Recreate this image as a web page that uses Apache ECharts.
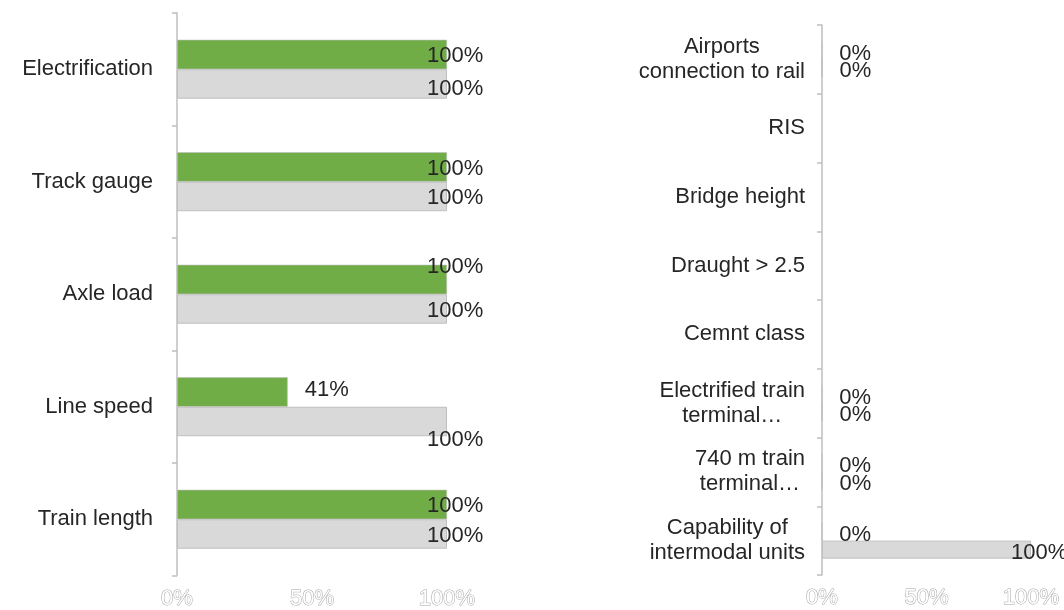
<!DOCTYPE html>
<html>
<head>
<meta charset="utf-8">
<style>
  html, body { margin: 0; padding: 0; background: #ffffff; }
  #chart { width: 1064px; height: 610px; }
</style>
<script src="https://cdn.jsdelivr.net/npm/echarts@6/dist/echarts.min.js"></script>
</head>
<body>
<div id="chart"></div>
<script>
// Rail-line parameters (left panel)
const lineCategories = ['Electrification', 'Track gauge', 'Axle load', 'Line speed', 'Train length'];
const lineCompliant = [100, 100, 100, 41, 100];
const lineTotal = [100, 100, 100, 100, 100];

// Terminal / node parameters (right panel)
const nodeCategories = [
  'Airports\nconnection to rail',
  'RIS',
  'Bridge height',
  'Draught > 2.5',
  'Cemnt class',
  'Electrified train\nterminal\u2026',
  '740 m train\nterminal\u2026',
  'Capability of\nintermodal units'
];
const nodeCompliant = [0, null, null, null, null, 0, 0, 0];
const nodeTotal = [0, null, null, null, null, 0, 0, 100];

// Value axis tick labels
const valueTicks = [0, 50, 100];

const FONT = "'Liberation Sans', Arial, sans-serif";
const TEXT = '#262626';
const GREEN = '#70ad47';
const GREY = '#d9d9d9';
const EDGE = '#bfbfbf';
const FS = 22;

// Labels sit just past short bars and tucked back over full-length bars
function pointLabel(value, dy) {
  const full = value >= 100;
  return {
    show: value !== null,
    position: 'right',
    distance: 5,
    offset: [full ? -25 : 12, dy || 0],
    color: TEXT,
    fontFamily: FONT,
    fontSize: FS,
    formatter: (p) => p.value + '%'
  };
}

function seriesData(values, nudges, baseDy) {
  return values.map((v, i) => ({
    value: v,
    label: pointLabel(v, (baseDy || 0) + ((nudges && nudges[i]) || 0))
  }));
}

// small vertical nudges for a few crowded labels
const compliantNudge = { 2: -14, 3: -4 };
const totalNudge = { 0: 3, 3: 17 };

const grids = [
  { left: 177, top: 13, width: 270, height: 563 },
  { left: 822, top: 25, width: 209, height: 550 }
];

function valueAxis(gridIndex) {
  return {
    type: 'value',
    gridIndex,
    min: valueTicks[0],
    max: valueTicks[valueTicks.length - 1],
    interval: valueTicks[1] - valueTicks[0],
    axisLine: { show: false },
    axisTick: { show: false },
    splitLine: { show: false },
    axisLabel: {
      margin: 12,
      color: '#ffffff',
      textBorderColor: '#a6a6a6',
      textBorderWidth: 1,
      fontFamily: FONT,
      fontSize: FS,
      formatter: '{value}%'
    }
  };
}

function categoryAxis(gridIndex, cats, margin, rich) {
  const axis = {
    type: 'category',
    gridIndex,
    data: cats,
    inverse: true,
    axisLine: { show: true, lineStyle: { color: EDGE, width: 1.5 } },
    axisTick: { show: true, length: 5, lineStyle: { color: EDGE, width: 1.5 } },
    axisLabel: {
      margin,
      color: TEXT,
      fontFamily: FONT,
      fontSize: FS,
      align: 'right'
    }
  };
  if (rich) {
    // right-aligned block, lines centred against each other
    axis.axisLabel.formatter = (v) => v.split('\n').map((s) => '{c|' + s + '}').join('\n');
    axis.axisLabel.rich = {
      c: { align: 'center', color: TEXT, fontFamily: FONT, fontSize: FS, lineHeight: 25 }
    };
  }
  return axis;
}

const barCommon = {
  type: 'bar',
  barGap: '0%',
  barCategoryGap: '47.6%',
  animation: false
};

const option = {
  backgroundColor: '#ffffff',
  grid: grids,
  xAxis: [valueAxis(0), valueAxis(1)],
  yAxis: [
    categoryAxis(0, lineCategories, 24, false),
    categoryAxis(1, nodeCategories, 17, true)
  ],
  series: [
    Object.assign({}, barCommon, {
      name: 'Compliant',
      xAxisIndex: 0, yAxisIndex: 0,
      itemStyle: { color: GREEN, borderColor: EDGE, borderWidth: 0.6 },
      data: seriesData(lineCompliant, compliantNudge, 1.5)
    }),
    Object.assign({}, barCommon, {
      name: 'Total',
      xAxisIndex: 0, yAxisIndex: 0,
      itemStyle: { color: GREY, borderColor: EDGE, borderWidth: 1 },
      data: seriesData(lineTotal, totalNudge, 1.5)
    }),
    Object.assign({}, barCommon, {
      name: 'Compliant',
      xAxisIndex: 1, yAxisIndex: 1,
      itemStyle: { color: GREEN, borderColor: EDGE, borderWidth: 0.6 },
      data: seriesData(nodeCompliant, null, 3.5)
    }),
    Object.assign({}, barCommon, {
      name: 'Total',
      xAxisIndex: 1, yAxisIndex: 1,
      itemStyle: { color: GREY, borderColor: EDGE, borderWidth: 1 },
      data: seriesData(nodeTotal, null, 3)
    })
  ]
};

const chart = echarts.init(document.getElementById('chart'), null, { renderer: 'canvas' });
chart.setOption(option);
</script>
</body>
</html>
